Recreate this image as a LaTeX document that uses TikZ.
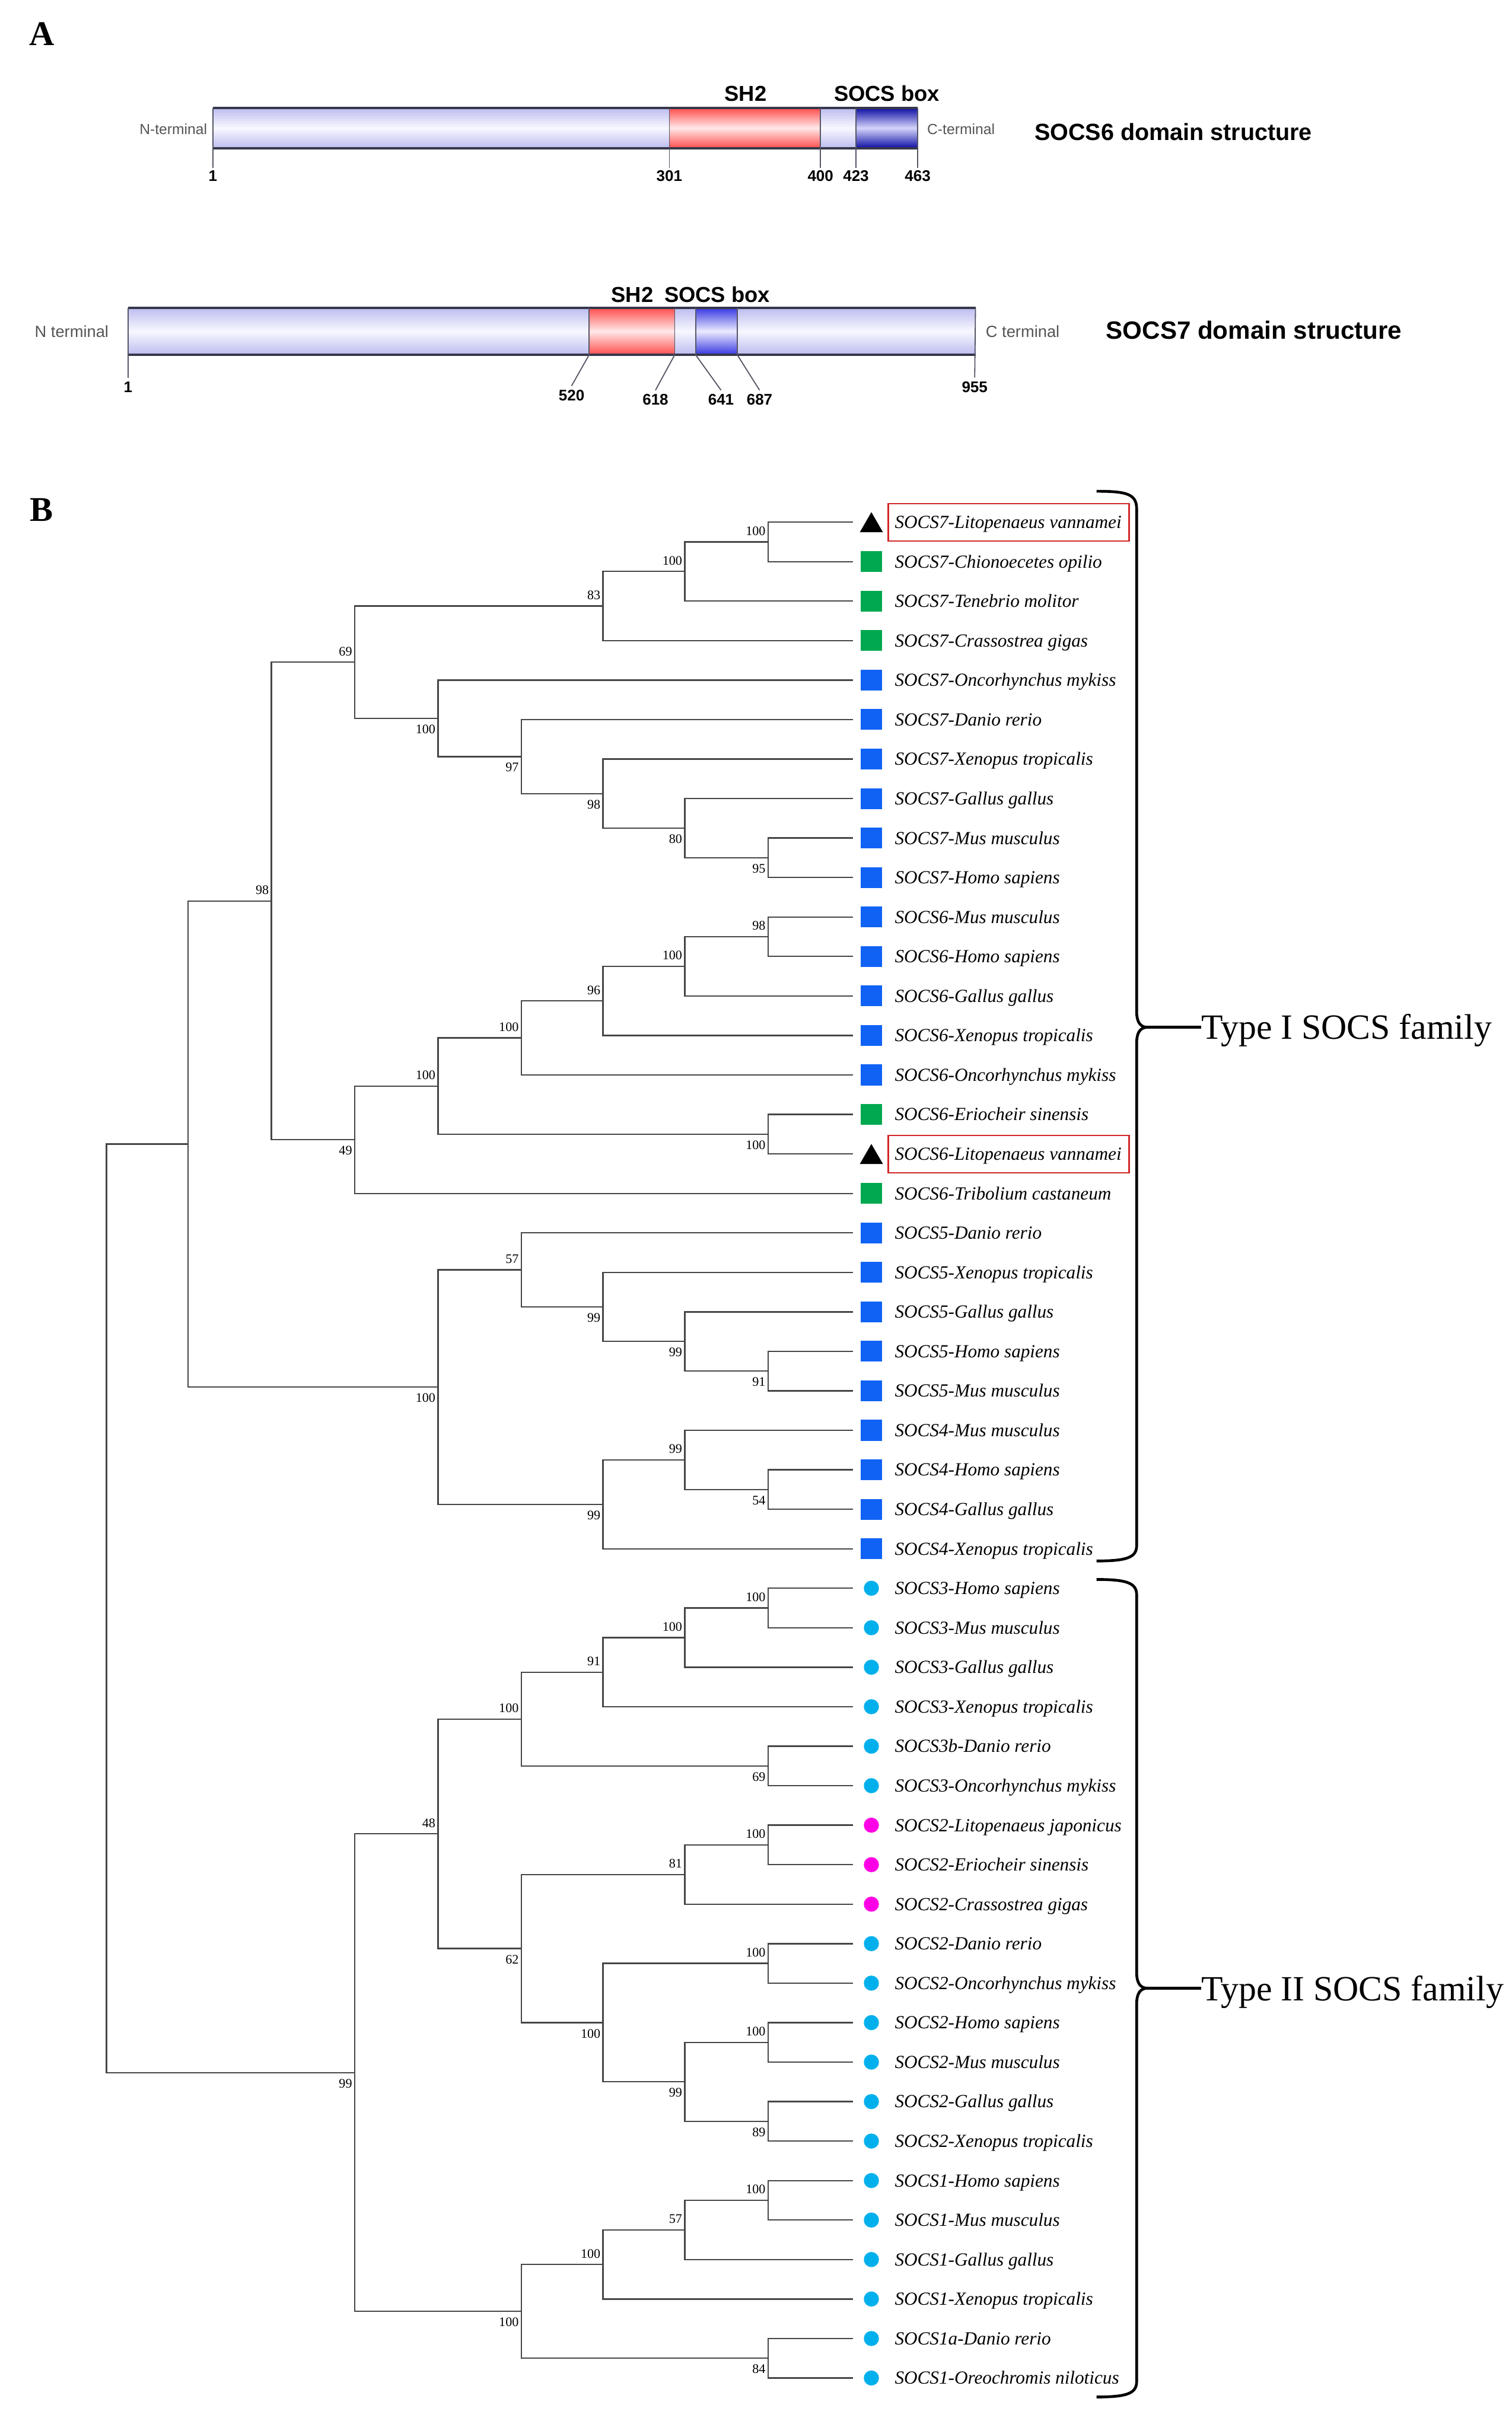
\documentclass[tikz,border=0pt]{standalone}
\usepackage{fontspec}
\setmainfont{Liberation Serif}
\setsansfont{Liberation Sans}
\usetikzlibrary{shapes.geometric,calc}
\definecolor{lavE}{RGB}{188,188,240}
\definecolor{lavM}{RGB}{248,248,255}
\definecolor{redE}{RGB}{255,78,78}
\definecolor{redM}{RGB}{255,232,232}
\definecolor{bluE}{RGB}{15,15,165}
\definecolor{bluM}{RGB}{212,212,250}
\definecolor{bluSE}{RGB}{55,55,225}
\definecolor{bluSM}{RGB}{235,235,255}
\definecolor{edgeC}{RGB}{55,55,75}
\definecolor{termC}{RGB}{85,85,85}
\definecolor{mkGreen}{RGB}{0,168,80}
\definecolor{mkBlue}{RGB}{16,98,245}
\definecolor{mkCyan}{RGB}{0,176,236}
\definecolor{mkMag}{RGB}{255,0,230}
\definecolor{boxRed}{RGB}{210,40,40}
\definecolor{branchC}{RGB}{70,70,70}
\newcommand{\barseg}[6]{\shade[top color=#5,bottom color=#5,middle color=#6] (#1,#3) rectangle (#2,#4);}
\def\treelist{na/498/351.3/L0/L1/100/bsa,
nb/444/370.5/na/L2/100/bsa,
nc/391/392.9/nb/L3/83/bsa,
nd/498/556.1/L8/L9/95/bsb,
ne/444/536.9/L7/nd/80/bsb,
nf/391/514.5/L6/ne/98/bsb,
ng/338/490.5/L5/nf/97/bsb,
nh/284/465.7/L4/ng/100/bsb,
ni/230/429.3/nc/nh/69/bsa,
nj/498/607.3/L10/L11/98/bsa,
nk/444/626.5/nj/L12/100/bsa,
nl/391/648.9/nk/L13/96/bsa,
nm/338/672.9/nl/L14/100/bsa,
nn/498/735.3/L15/L16/100/bsb,
no/284/704.1/nm/nn/100/bsa,
np/230/738.9/no/L17/49/bsb,
nq/176/584.1/ni/np/98/bsa,
nr/498/888.9/L21/L22/91/bsb,
ns/444/869.7/L20/nr/99/bsb,
nt/391/847.3/L19/ns/99/bsb,
nu/338/823.3/L18/nt/57/bsa,
nv/498/965.7/L24/L25/54/bsb,
nw/444/946.5/L23/nv/99/bsa,
nx/391/975.3/nw/L26/99/bsb,
ny/284/899.3/nu/nx/100/bsb,
nz/122/741.7/nq/ny//bsn,
t1/498/1042.5/L27/L28/100/bsa,
t2/444/1061.7/t1/L29/100/bsa,
t3/391/1084.1/t2/L30/91/bsa,
t4/498/1144.9/L31/L32/69/bsb,
t5/338/1114.5/t3/t4/100/bsa,
t6/498/1196.1/L33/L34/100/bsa,
t7/444/1215.3/t6/L35/81/bsa,
t8/498/1272.9/L36/L37/100/bsa,
t9/498/1324.1/L38/L39/100/bsa,
t10/498/1375.3/L40/L41/89/bsb,
t11/444/1349.7/t9/t10/99/bsb,
t12/391/1311.3/t8/t11/100/bsb,
t13/338/1263.3/t7/t12/62/bsb,
t14/284/1188.9/t5/t13/48/bsa,
s1/498/1426.5/L42/L43/100/bsa,
s2/444/1445.7/s1/L44/57/bsa,
s3/391/1468.1/s2/L45/100/bsa,
s4/498/1528.9/L46/L47/84/bsb,
s5/338/1498.5/s3/s4/100/bsb,
t15/230/1343.7/t14/s5/99/bsb,
root/69/1042.7/nz/t15//bsn}
\def\leaflist{0/SOCS7-Litopenaeus vannamei/mkT,
1/SOCS7-Chionoecetes opilio/mkG,
2/SOCS7-Tenebrio molitor/mkG,
3/SOCS7-Crassostrea gigas/mkG,
4/SOCS7-Oncorhynchus mykiss/mkB,
5/SOCS7-Danio rerio/mkB,
6/SOCS7-Xenopus tropicalis/mkB,
7/SOCS7-Gallus gallus/mkB,
8/SOCS7-Mus musculus/mkB,
9/SOCS7-Homo sapiens/mkB,
10/SOCS6-Mus musculus/mkB,
11/SOCS6-Homo sapiens/mkB,
12/SOCS6-Gallus gallus/mkB,
13/SOCS6-Xenopus tropicalis/mkB,
14/SOCS6-Oncorhynchus mykiss/mkB,
15/SOCS6-Eriocheir sinensis/mkG,
16/SOCS6-Litopenaeus vannamei/mkT,
17/SOCS6-Tribolium castaneum/mkG,
18/SOCS5-Danio rerio/mkB,
19/SOCS5-Xenopus tropicalis/mkB,
20/SOCS5-Gallus gallus/mkB,
21/SOCS5-Homo sapiens/mkB,
22/SOCS5-Mus musculus/mkB,
23/SOCS4-Mus musculus/mkB,
24/SOCS4-Homo sapiens/mkB,
25/SOCS4-Gallus gallus/mkB,
26/SOCS4-Xenopus tropicalis/mkB,
27/SOCS3-Homo sapiens/mkC,
28/SOCS3-Mus musculus/mkC,
29/SOCS3-Gallus gallus/mkC,
30/SOCS3-Xenopus tropicalis/mkC,
31/SOCS3b-Danio rerio/mkC,
32/SOCS3-Oncorhynchus mykiss/mkC,
33/SOCS2-Litopenaeus japonicus/mkM,
34/SOCS2-Eriocheir sinensis/mkM,
35/SOCS2-Crassostrea gigas/mkM,
36/SOCS2-Danio rerio/mkC,
37/SOCS2-Oncorhynchus mykiss/mkC,
38/SOCS2-Homo sapiens/mkC,
39/SOCS2-Mus musculus/mkC,
40/SOCS2-Gallus gallus/mkC,
41/SOCS2-Xenopus tropicalis/mkC,
42/SOCS1-Homo sapiens/mkC,
43/SOCS1-Mus musculus/mkC,
44/SOCS1-Gallus gallus/mkC,
45/SOCS1-Xenopus tropicalis/mkC,
46/SOCS1a-Danio rerio/mkC,
47/SOCS1-Oreochromis niloticus/mkC}
\begin{document}
\begin{tikzpicture}[x=1pt,y=-1pt,
  branch/.style={draw=branchC,line width=0.9pt},
  bsa/.style={anchor=south east,inner sep=0pt,font=\fontsize{8.5}{10}\selectfont,xshift=-1.5pt,yshift=4pt},
  bsb/.style={anchor=north east,inner sep=0pt,font=\fontsize{8.5}{10}\selectfont,xshift=-1.5pt,yshift=-4pt},
  bsn/.style={inner sep=0pt},
  leaflab/.style={anchor=base west,inner sep=0pt,font=\fontsize{12}{14}\selectfont\itshape},
  mkG/.style={rectangle,fill=mkGreen,minimum width=13.5pt,minimum height=13.5pt,inner sep=0pt},
  mkB/.style={rectangle,fill=mkBlue,minimum width=13.5pt,minimum height=13.5pt,inner sep=0pt},
  mkC/.style={circle,fill=mkCyan,minimum size=9.8pt,inner sep=0pt},
  mkM/.style={circle,fill=mkMag,minimum size=9.8pt,inner sep=0pt},
  mkT/.style={regular polygon,regular polygon sides=3,fill=black,minimum size=17.3pt,inner sep=0pt,yshift=-2.2pt},
  panel/.style={font=\fontsize{22.5}{26}\selectfont\bfseries,inner sep=0pt},
  numA/.style={font=\sffamily\bfseries\fontsize{10}{12}\selectfont,inner sep=1.4pt},
  numB/.style={font=\sffamily\bfseries\fontsize{10}{12}\selectfont,inner sep=2.5pt},
  dom/.style={font=\sffamily\bfseries\fontsize{14}{16}\selectfont,inner sep=0pt},
  term/.style={font=\sffamily\fontsize{9.5}{11}\selectfont,text=termC,inner sep=0pt},
  termB/.style={font=\sffamily\fontsize{10.5}{12}\selectfont,text=termC,inner sep=0pt},
  tickline/.style={draw=edgeC!85,line width=0.7pt},
  barline/.style={draw=edgeC,line width=1.5pt},
  brace/.style={draw=black,line width=1.8pt},
  family/.style={font=\fontsize{23}{27}\selectfont,inner sep=0pt,anchor=base west}]
\useasboundingbox (0,0) rectangle (980,1569.6);
\fill[white] (0,0) rectangle (980,1569.6);

% ---------------- Panel A ----------------
\node[panel] (pA) at (27,22) {A};

% SOCS6 bar
\barseg{138}{434}{70}{96}{lavE}{lavM}
\barseg{434}{532}{70}{96}{redE}{redM}
\barseg{532}{555}{70}{96}{lavE}{lavM}
\barseg{555}{595}{70}{96}{bluE}{bluM}
\draw[barline] (138,70) -- (595,70) (138,96) -- (595,96);
\node[numA] (a1) at (138,114) {1};
\node[numA] (a301) at (434,114) {301};
\node[numA] (a400) at (532,114) {400};
\node[numA] (a423) at (555,114) {423};
\node[numA] (a463) at (595,114) {463};
\draw[tickline] (138,70) -- (a1.north);
\draw[tickline] (434,70) -- (a301.north);
\draw[tickline] (532,70) -- (a400.north);
\draw[tickline] (555,70) -- (a423.north);
\draw[tickline] (595,70) -- (a463.north);
\node[dom] (sh6) at (483.5,60.7) {SH2};
\node[dom] (sb6) at (575,60.7) {SOCS box};
\node[term,anchor=east] (nt6) at (134.5,83.6) {N-terminal};
\node[term,anchor=west] (ct6) at (601,83.6) {C-terminal};
\node[font=\sffamily\bfseries\fontsize{15.2}{18}\selectfont,inner sep=0pt,anchor=west] (d6) at (670.6,85.5) {SOCS6 domain structure};

% SOCS7 bar
\barseg{83}{382}{199.5}{230}{lavE}{lavM}
\barseg{382}{437.5}{199.5}{230}{redE}{redM}
\barseg{437.5}{451}{199.5}{230}{lavE}{lavM}
\barseg{451}{478}{199.5}{230}{bluSE}{bluSM}
\barseg{478}{632.5}{199.5}{230}{lavE}{lavM}
\draw[barline] (83,199.5) -- (632.5,199.5) (83,230) -- (632.5,230);
\draw[tickline] (382,199.5) -- (382,230) (437.5,199.5) -- (437.5,230)
  (451,199.5) -- (451,230) (478,199.5) -- (478,230);
\node[numB] (b1) at (83,251) {1};
\node[numB] (b520) at (370.6,256.4) {520};
\node[numB] (b618) at (425,259.2) {618};
\node[numB] (b641) at (467.5,259.2) {641};
\node[numB] (b687) at (492.5,259.2) {687};
\node[numB] (b955) at (632,251) {955};
\draw[tickline] (83,199.5) -- (b1.north);
\draw[tickline] (382,230) -- (b520.north);
\draw[tickline] (437.5,230) -- (b618.north);
\draw[tickline] (451,230) -- (b641.north);
\draw[tickline] (478,230) -- (b687.north);
\draw[tickline] (632.5,199.5) -- (b955.north);
\node[dom] (sh7) at (410,191) {SH2};
\node[dom] (sb7) at (465,191) {SOCS box};
\node[termB,anchor=east] (nt7) at (70.6,215) {N terminal};
\node[termB,anchor=west] (ct7) at (639,215) {C terminal};
\node[font=\sffamily\bfseries\fontsize{16.2}{19}\selectfont,inner sep=0pt,anchor=west] (d7) at (717,214) {SOCS7 domain structure};

% ---------------- Panel B ----------------
\node[panel] (pB) at (27,330.5) {B};

\foreach \i/\txt/\mk in \leaflist {
  \pgfmathsetmacro{\yy}{338.5+25.6*\i}
  \coordinate (L\i) at (553,\yy);
}
\foreach \nm/\xx/\yy/\ca/\cb/\lab/\ps in \treelist {
  \coordinate (\nm) at (\xx,\yy);
}
\foreach \nm/\xx/\yy/\ca/\cb/\lab/\ps in \treelist {
  \draw[branch] (\ca) -| (\nm) |- (\cb);
  \node[\ps] (bs\nm) at (\nm) {\lab};
}
\begin{scope}
\clip (540,300) rectangle (760,1548);
\foreach \i/\txt/\mk in \leaflist {
  \pgfmathsetmacro{\yy}{338.5+25.6*\i}
  \node[\mk] (mk\i) at (565,\yy) {};
  \node[leaflab] (tx\i) at (580,\yy+4) {\txt};
}
\end{scope}
\draw[boxRed,line width=1pt] ($(L0)+(23,-12)$) rectangle ($(L0)+(179,12.2)$);
\draw[boxRed,line width=1pt] ($(L16)+(23,-12)$) rectangle ($(L16)+(179,12.2)$);

% braces
\coordinate (cuspI) at (744,666);
\coordinate (cuspII) at (744,1289);
\draw[brace] (711,318.5) .. controls (730,318.5) and (737,320) .. (737,330)
  -- (737,656) .. controls (737,662) and (739,666) .. (cuspI)
  .. controls (739,666) and (737,670) .. (737,676)
  -- (737,1002) .. controls (737,1010) and (730,1012) .. (711,1012);
\node[family] (fam1) at (779,673.5) {Type I SOCS family};
\draw[brace] (cuspI) -- (fam1.west |- cuspI);
\draw[brace] (711,1024) .. controls (730,1024) and (737,1026) .. (737,1034)
  -- (737,1279) .. controls (737,1285) and (739,1289) .. (cuspII)
  .. controls (739,1289) and (737,1293) .. (737,1299)
  -- (737,1544) .. controls (737,1552) and (730,1554) .. (711,1554);
\node[family] (fam2) at (779,1297) {Type II SOCS family};
\draw[brace] (cuspII) -- (fam2.west |- cuspII);
\end{tikzpicture}
\end{document}
